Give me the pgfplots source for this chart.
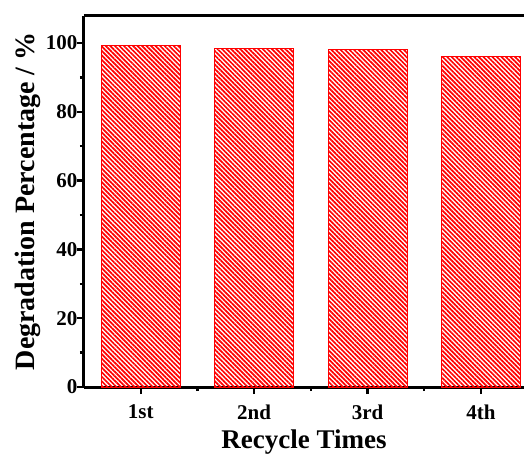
\documentclass[border=0pt]{standalone}
\usepackage{pgfplots}
\pgfplotsset{compat=1.18}
\usepackage{fontspec}
\setmainfont{Liberation Serif}
\usetikzlibrary{patterns.meta}
\begin{document}
\begin{tikzpicture}
\begin{axis}[
  name=ax,
  scale only axis,
  width=440pt, height=371.5pt,
  xmin=0.5, xmax=4.38,
  ymin=0, ymax=108,
  axis x line*=bottom, axis y line*=left,
  axis line style={line width=3pt, -},
  xtick={1,2,3,4},
  xticklabels={1st,2nd,3rd,4th},
  minor xtick={1.5,2.5,3.5},
  ytick={0,20,40,60,80,100},
  minor ytick={10,30,50,70,90},
  tick align=outside,
  major tick length=7pt,
  minor tick length=4pt,
  every tick/.style={line width=2.4pt, black},
  tick label style={font=\fontsize{21}{21}\selectfont\bfseries},
  xticklabel style={yshift=-7pt},
  yticklabel style={xshift=4pt},
  /pgf/number format/assume math mode=true,
  xlabel={Recycle Times},
  ylabel={Degradation Percentage / \%},
  xlabel style={font=\fontsize{27}{27}\selectfont\bfseries, yshift=-4pt},
  ylabel style={font=\fontsize{28}{28}\selectfont\bfseries, yshift=-2pt},
  clip=false,
]
\addplot[ybar, bar width=79pt, draw=red, line width=1pt,
  pattern={Lines[angle=-45, distance=3.2pt, line width=1.7pt]}, pattern color=red]
  coordinates {(1,99.3) (2,98.4) (3,98.2) (4,96.0)};
\draw[line width=3.5pt] (rel axis cs:0,1) -- (rel axis cs:1,1);
\end{axis}
\pgfresetboundingbox
\path[use as bounding box] ([xshift=-84pt,yshift=-69pt]ax.south west) rectangle ([yshift=15.5pt]ax.north east);
\end{tikzpicture}
\end{document}
